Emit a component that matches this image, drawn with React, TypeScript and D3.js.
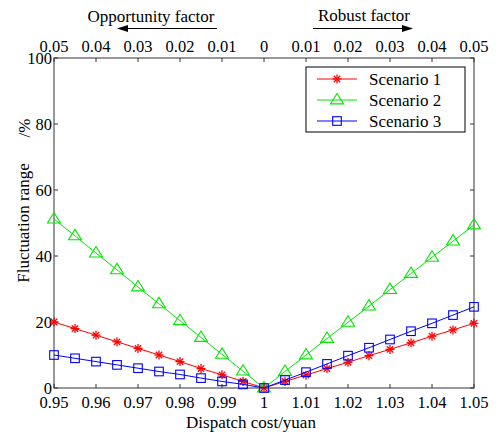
import React from "react";
import * as d3 from "d3";

const xValues = [0.95, 0.955, 0.96, 0.965, 0.97, 0.975, 0.98, 0.985, 0.99, 0.995, 1, 1.005, 1.01, 1.015, 1.02, 1.025, 1.03, 1.035, 1.04, 1.045, 1.05];
const scenario1 = [20, 18, 16, 14, 12, 10, 8, 5.9, 4, 2, 0, 2, 3.9, 5.9, 7.8, 9.8, 11.7, 13.7, 15.7, 17.6, 19.6];
const scenario2 = [51.2, 46.1, 40.9, 35.8, 30.6, 25.5, 20.4, 15.3, 10.2, 5.1, 0, 5, 10, 15, 19.9, 24.8, 29.8, 34.7, 39.6, 44.5, 49.4];
const scenario3 = [10, 9, 8, 7, 6, 5, 4.1, 3, 2, 1.1, 0, 2.4, 4.8, 7.3, 9.8, 12.2, 14.7, 17.2, 19.6, 22.1, 24.6];
const bottomTicks = [0.95, 0.96, 0.97, 0.98, 0.99, 1, 1.01, 1.02, 1.03, 1.04, 1.05];
const bottomTickLabels = ["0.95", "0.96", "0.97", "0.98", "0.99", "1", "1.01", "1.02", "1.03", "1.04", "1.05"];
const topTickLabels = ["0.05", "0.04", "0.03", "0.02", "0.01", "0", "0.01", "0.02", "0.03", "0.04", "0.05"];
const yTicks = [0, 20, 40, 60, 80, 100];
const seriesNames = ["Scenario 1", "Scenario 2", "Scenario 3"];

const FONT = "Liberation Serif, DejaVu Serif, serif";
const AX = "#333";
const TF = 16.5;
const LF = 17;

function Marker({ kind, x, y, color }: { kind: number; x: number; y: number; color: string }) {
  if (kind === 0) {
    const r = 4.5;
    const lines = [0, 45, 90, 135].map((a) => {
      const rad = (a * Math.PI) / 180;
      return (
        <line key={a} x1={x - r * Math.cos(rad)} y1={y - r * Math.sin(rad)} x2={x + r * Math.cos(rad)} y2={y + r * Math.sin(rad)} stroke={color} strokeWidth={1.3} />
      );
    });
    return <g>{lines}</g>;
  }
  if (kind === 1) {
    const s = 6.5;
    const pts = `${x},${y - s} ${x - s},${y + s * 0.6} ${x + s},${y + s * 0.6}`;
    return <polygon points={pts} fill="none" stroke={color} strokeWidth={1.1} />;
  }
  const h = 4.3;
  return <rect x={x - h} y={y - h} width={2 * h} height={2 * h} fill="none" stroke={color} strokeWidth={1.1} />;
}

export default function App() {
  const W = 499, H = 437;
  const left = 54, right = 474, top = 58, bottom = 388;
  const x = d3.scaleLinear().domain([0.95, 1.05]).range([left, right]);
  const y = d3.scaleLinear().domain([0, 100]).range([bottom, top]);
  const series = [scenario1, scenario2, scenario3];
  const colors = ["#ff0000", "#00e600", "#0000ff"];
  const line = d3.line<number>().x((_, i) => x(xValues[i])).y((d) => y(d));

  return (
    <svg width={W} height={H} style={{ position: "absolute", left: 0, top: 0, fontFamily: FONT }}>
      <rect x={0} y={0} width={W} height={H} fill="#fff" />
      <rect x={left} y={top} width={right - left} height={bottom - top} fill="none" stroke={AX} strokeWidth={1} />
      {bottomTicks.map((t, i) => (
        <g key={"bt" + i}>
          <line x1={x(t)} x2={x(t)} y1={bottom} y2={bottom - 4} stroke={AX} />
          <line x1={x(t)} x2={x(t)} y1={top} y2={top + 4} stroke={AX} />
          <text x={x(t)} y={408} textAnchor="middle" fontSize={TF}>{bottomTickLabels[i]}</text>
          <text x={x(t)} y={52} textAnchor="middle" fontSize={TF}>{topTickLabels[i]}</text>
        </g>
      ))}
      {yTicks.map((t) => (
        <g key={"yt" + t}>
          <line x1={left} x2={left + 4} y1={y(t)} y2={y(t)} stroke={AX} />
          <line x1={right} x2={right - 4} y1={y(t)} y2={y(t)} stroke={AX} />
          <text x={left - 2} y={y(t) + 5.5} textAnchor="end" fontSize={TF}>{t}</text>
        </g>
      ))}
      <text x={251} y={428} textAnchor="middle" fontSize={LF}>Dispatch cost/yuan</text>
      <text transform={`translate(29,223) rotate(-90)`} textAnchor="middle" fontSize={LF}>Fluctuation range</text>
      <text transform={`translate(30,128) rotate(-90)`} textAnchor="middle" fontSize={LF}>/%</text>
      <text x={151} y={22} textAnchor="middle" fontSize={LF}>Opportunity factor</text>
      <line x1={217} x2={126} y1={28.5} y2={28.5} stroke="#000" strokeWidth={1} />
      <polygon points="117,28.5 128,25 128,32" fill="#000" />
      <text x={364} y={21} textAnchor="middle" fontSize={LF}>Robust factor</text>
      <line x1={313} x2={404} y1={28.5} y2={28.5} stroke="#000" strokeWidth={1} />
      <polygon points="413,28.5 402,25 402,32" fill="#000" />
      {series.map((s, k) => (
        <g key={"s" + k}>
          <path d={line(s) || ""} fill="none" stroke={colors[k]} strokeWidth={1} />
          {s.map((v, i) => (
            <Marker key={i} kind={k} x={x(xValues[i])} y={y(v)} color={colors[k]} />
          ))}
        </g>
      ))}
      <rect x={306} y={67} width={159} height={65} fill="#fff" stroke="#000" strokeWidth={1} />
      {seriesNames.map((n, k) => {
        const ly = 79 + k * 21;
        return (
          <g key={"lg" + k}>
            <line x1={317} x2={357} y1={ly} y2={ly} stroke={colors[k]} strokeWidth={1} />
            <Marker kind={k} x={337} y={ly} color={colors[k]} />
            <text x={369} y={ly + 6} fontSize={LF}>{n}</text>
          </g>
        );
      })}
    </svg>
  );
}
